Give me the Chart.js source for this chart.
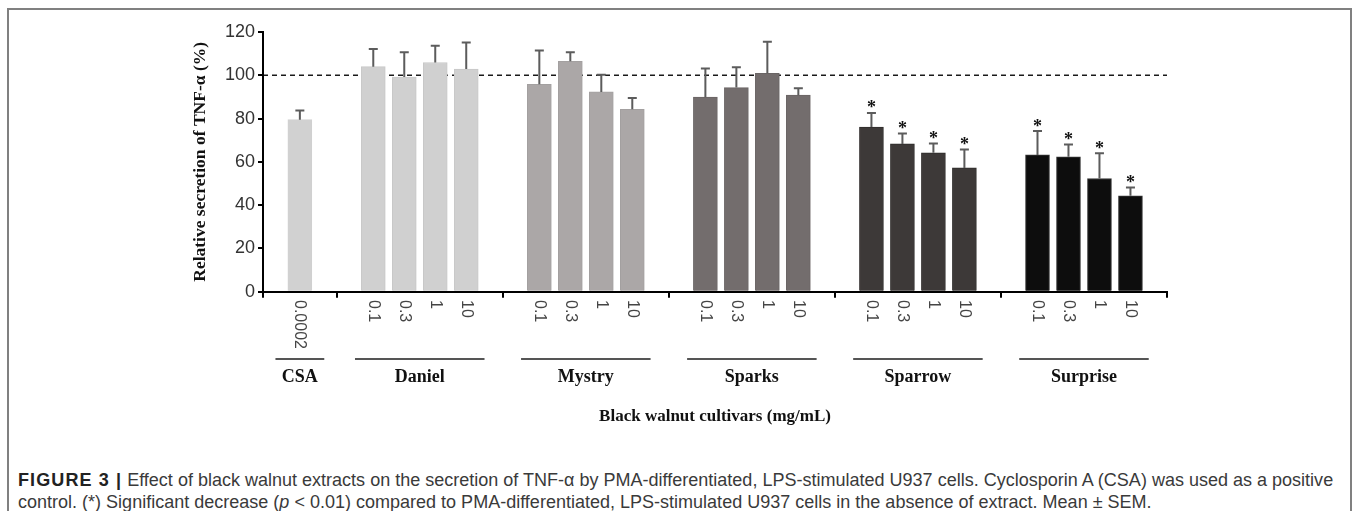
<!DOCTYPE html>
<html><head><meta charset="utf-8">
<script src="https://cdn.jsdelivr.net/npm/chart.js@4.4.1/dist/chart.umd.min.js"></script>
<style>
html,body{margin:0;padding:0;background:#fff;width:1357px;height:511px;overflow:hidden}
#frame{position:absolute;left:7px;top:8px;width:1345px;height:560px;border:2px solid #808080;box-sizing:border-box}
#wrap{position:absolute;left:0;top:0;width:1357px;height:440px}
#caption{position:absolute;left:18px;top:470px;font-family:'Liberation Sans',Arial,sans-serif;font-size:15px;line-height:21.5px;color:#3a3a3a;white-space:nowrap}
#caption b{color:#222;letter-spacing:1.1px}
</style></head><body>
<div id="frame"></div>
<div id="wrap"><canvas id="c"></canvas></div>
<div id="caption"><span id="l1"><b>FIGURE 3 |</b> Effect of black walnut extracts on the secretion of TNF-α by PMA-differentiated, LPS-stimulated U937 cells. Cyclosporin A (CSA) was used as a positive</span><br><span id="l2">control. (*) Significant decrease (<i>p</i> &lt; 0.01) compared to PMA-differentiated, LPS-stimulated U937 cells in the absence of extract. Mean ± SEM.</span></div>
<script>
// ---- data ----
const groups = ['CSA', 'Daniel', 'Mystry', 'Sparks', 'Sparrow', 'Surprise'];
const doseLabels = [
  ['0.0002'],
  ['0.1', '0.3', '1', '10'],
  ['0.1', '0.3', '1', '10'],
  ['0.1', '0.3', '1', '10'],
  ['0.1', '0.3', '1', '10'],
  ['0.1', '0.3', '1', '10']
];
const meanCSA      = [79.5];
const meanDaniel   = [104.0, 99.2, 105.9, 102.9];
const meanMystry   = [95.8, 106.5, 92.3, 84.3];
const meanSparks   = [89.9, 94.3, 100.9, 90.8];
const meanSparrow  = [76.1, 68.3, 64.2, 57.2];
const meanSurprise = [63.2, 62.3, 52.3, 44.3];
const semCSA      = [4.2];
const semDaniel   = [8.1, 11.4, 7.8, 12.2];
const semMystry   = [15.7, 4.1, 8.0, 5.2];
const semSparks   = [13.2, 9.4, 14.6, 3.2];
const semSparrow  = [6.5, 4.8, 4.3, 8.5];
const semSurprise = [11.0, 5.7, 11.7, 3.9];
const significant = [false, false, false, false, true, true];
const referenceLevel = 100;
const yMin = 0, yMax = 120, yStep = 20;
const yTitle = 'Relative secretion of TNF-α (%)';
const xTitle = 'Black walnut cultivars (mg/mL)';

// ---- styling / layout ----
const groupColors  = ['#d1d1d1', '#d0d0d0', '#aba7a7', '#736d6d', '#3d3938', '#0d0d0d'];
const groupBorders = ['#d1d1d1', '#c8c8c8', '#a3a0a0', '#6a6565', '#2f2c2b', '#3a3a3a'];
const CSA_SPAN = 0.444, GROUP_SPAN = 1, BAR_STEP = 0.1866;

const means = [meanCSA, meanDaniel, meanMystry, meanSparks, meanSparrow, meanSurprise];
const sems  = [semCSA, semDaniel, semMystry, semSparks, semSparrow, semSurprise];

const groupStart = [], groupEnd = [];
let acc = 0;
groups.forEach((g, gi) => {
  const span = gi === 0 ? CSA_SPAN : GROUP_SPAN;
  groupStart.push(acc); acc += span; groupEnd.push(acc);
});
const boundaries = [0].concat(groupEnd);

const points = [], colors = [], borders = [], errs = [], stars = [], labels = [];
groups.forEach((g, gi) => {
  const n = means[gi].length;
  const c = (groupStart[gi] + groupEnd[gi]) / 2;
  means[gi].forEach((v, i) => {
    points.push({x: c + (i - (n - 1) / 2) * BAR_STEP, y: v});
    colors.push(groupColors[gi]);
    borders.push(groupBorders[gi]);
    errs.push(sems[gi][i]);
    stars.push(significant[gi]);
    labels.push(doseLabels[gi][i]);
  });
});

const decor = {
  id: 'decor',
  beforeDatasetsDraw(chart) {
    const {ctx, chartArea, scales: {y}} = chart;
    const py = y.getPixelForValue(referenceLevel);
    ctx.save();
    ctx.strokeStyle = '#1a1a1a';
    ctx.lineWidth = 1.5;
    ctx.setLineDash([5, 4]);
    ctx.beginPath();
    ctx.moveTo(chartArea.left, py);
    ctx.lineTo(chartArea.right, py);
    ctx.stroke();
    ctx.restore();
  },
  afterDatasetsDraw(chart) {
    const {ctx, scales: {x, y}} = chart;
    ctx.save();
    ctx.lineWidth = 2;
    ctx.strokeStyle = '#5c5c5c';
    points.forEach((p, i) => {
      const px = x.getPixelForValue(p.x);
      const y0 = y.getPixelForValue(p.y);
      const y1 = y.getPixelForValue(p.y + errs[i]);
      ctx.beginPath();
      ctx.moveTo(px, y0);
      ctx.lineTo(px, y1);
      ctx.moveTo(px - 4.5, y1);
      ctx.lineTo(px + 4.5, y1);
      ctx.stroke();
      if (stars[i]) {
        ctx.fillStyle = '#111';
        ctx.font = 'bold 18px "Liberation Serif", "Times New Roman", serif';
        ctx.textAlign = 'center';
        ctx.textBaseline = 'alphabetic';
        ctx.fillText('*', px, y1 + 0.5);
      }
    });
    ctx.restore();
  },
  afterDraw(chart) {
    const {ctx, scales: {x}} = chart;
    ctx.save();
    // dose labels, rotated clockwise
    ctx.fillStyle = '#454545';
    ctx.font = '16px "Liberation Sans", Arial, sans-serif';
    ctx.textAlign = 'left';
    ctx.textBaseline = 'middle';
    points.forEach((p, i) => {
      const px = x.getPixelForValue(p.x);
      ctx.save();
      ctx.translate(px, 300);
      ctx.rotate(Math.PI / 2);
      ctx.fillText(labels[i], 0, 0);
      ctx.restore();
    });
    // group underlines and names
    groups.forEach((g, gi) => {
      const c = (groupStart[gi] + groupEnd[gi]) / 2;
      const half = gi === 0 ? 0.147 : 0.39;
      const a = x.getPixelForValue(c - half), b = x.getPixelForValue(c + half);
      ctx.strokeStyle = '#555';
      ctx.lineWidth = 2;
      ctx.beginPath();
      ctx.moveTo(a, 359);
      ctx.lineTo(b, 359);
      ctx.stroke();
      ctx.fillStyle = '#111';
      ctx.font = 'bold 18px "Liberation Serif", "Times New Roman", serif';
      ctx.textAlign = 'center';
      ctx.textBaseline = 'middle';
      ctx.fillText(g, x.getPixelForValue(c), 377);
    });
    ctx.restore();
  }
};

new Chart(document.getElementById('c'), {
  type: 'bar',
  data: {
    datasets: [{
      data: points,
      backgroundColor: colors,
      borderColor: borders,
      borderWidth: 1,
      barThickness: 24
    }]
  },
  options: {
    responsive: true,
    maintainAspectRatio: false,
    animation: false,
    layout: {padding: {left: 185, right: 190, top: 32, bottom: 0}},
    plugins: {legend: {display: false}, tooltip: {enabled: false}},
    scales: {
      x: {
        type: 'linear',
        offset: false,
        min: 0,
        max: boundaries[boundaries.length - 1],
        afterBuildTicks(s) { s.ticks = boundaries.map(v => ({value: v})); },
        afterFit(s) { s.height = 148.3; },
        ticks: {display: false},
        grid: {offset: false, drawOnChartArea: false, drawTicks: true, tickLength: 6, color: '#000', lineWidth: 2},
        border: {display: true, color: '#000', width: 2, z: 1},
        title: {
          display: true, text: xTitle, color: '#111',
          font: {family: '"Liberation Serif", "Times New Roman", serif', size: 17, weight: 'bold'},
          padding: {top: 0, bottom: 13.5}
        }
      },
      y: {
        min: yMin, max: yMax,
        afterFit(s) { s.width = 78; },
        ticks: {stepSize: yStep, color: '#333', padding: 3,
          font: {family: '"Liberation Sans", Arial, sans-serif', size: 18}},
        grid: {drawOnChartArea: false, drawTicks: true, tickLength: 5, color: '#000', lineWidth: 2},
        border: {display: true, color: '#000', width: 2, z: 1},
        title: {
          display: true, text: yTitle, color: '#111',
          font: {family: '"Liberation Serif", "Times New Roman", serif', size: 17.5, weight: 'bold'},
          padding: {top: 5, bottom: 0}
        }
      }
    }
  },
  plugins: [decor]
});

// fit caption width to the reference line length
(function fitCaption() {
  const l1 = document.getElementById('l1');
  const cap = document.getElementById('caption');
  const w = l1.getBoundingClientRect().width;
  const target = 1318;
  const fs = 15 * target / w;
  cap.style.fontSize = fs.toFixed(2) + 'px';
})();
</script>
</body></html>
